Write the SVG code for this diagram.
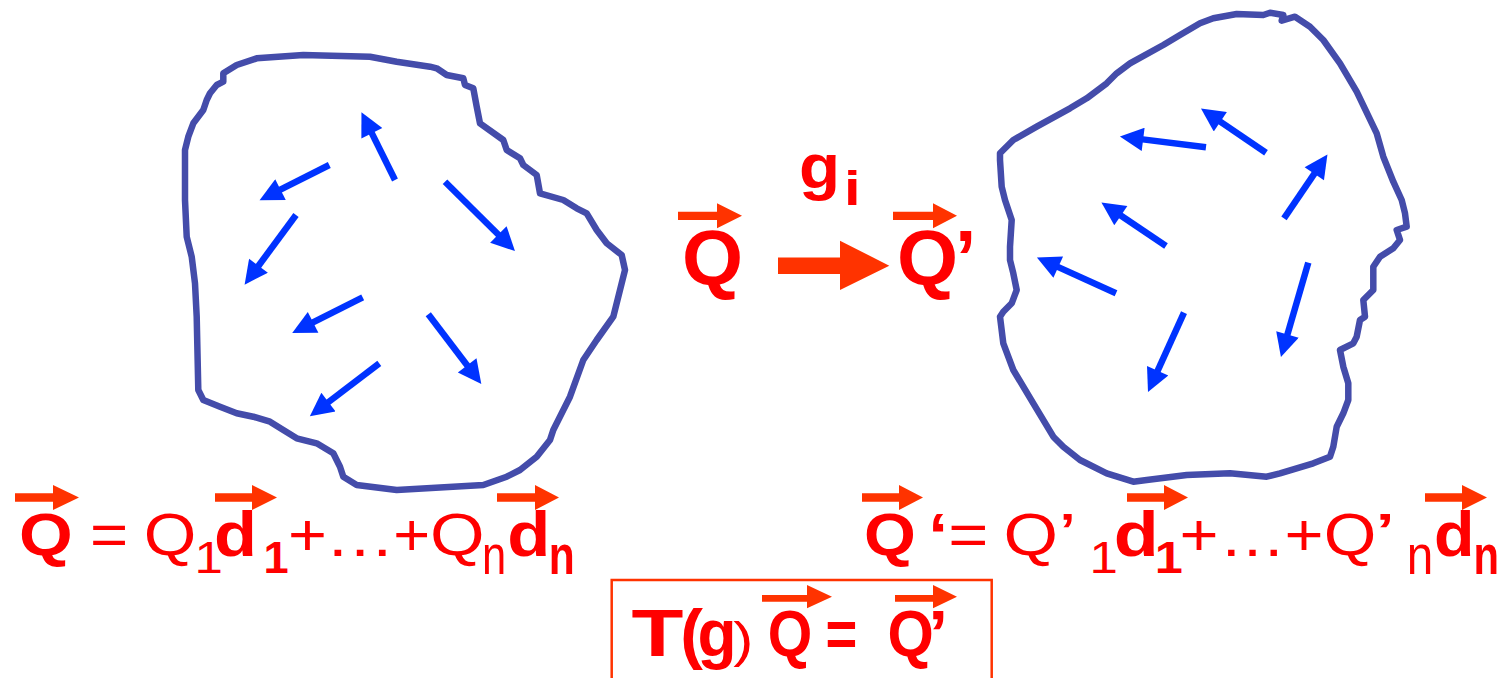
<svg xmlns="http://www.w3.org/2000/svg" width="1502" height="678" viewBox="0 0 1502 678">
<defs>
<style>
.t{font-family:"Liberation Sans",Arial,sans-serif;fill:#FF0000}
.b{font-weight:bold}
.vec{fill:#FF3300}
.blob{fill:none;stroke:#444CAA;stroke-width:6.5;stroke-linejoin:round;stroke-linecap:round}
.va{stroke:#0033FF;stroke-width:6.5;fill:none;marker-end:url(#bh)}
</style>
<marker id="bh" viewBox="0 0 10 10" refX="1" refY="5" markerWidth="4.2" markerHeight="3.6" orient="auto" markerUnits="strokeWidth">
<path d="M0,0 L10,5 L0,10 Z" fill="#0033FF"/>
</marker>
</defs>
<rect width="1502" height="678" fill="#FFFFFF"/>

<g id="blob-left">
<polygon class="blob" points="223.3,73.3 236.7,65 256.7,58.3 303.3,55 370,56.7 396.7,61.7 430,66.7 436.7,68.3 446.7,75 463.3,78.3 465,85 473.3,88.3 476.7,106.7 480,123.3 503.3,140 506.7,150 520,158.3 523.3,165 536.7,175 540,193.3 563.3,200 576.7,208.3 586.7,213.3 596.7,230 606.7,243.3 621.7,255 625,270 620,290 613.3,316.7 596.7,340 583.3,360 570,396.7 553.3,430 550,440 536.7,456.7 520,470 506.7,476.7 483.3,485 396.7,490 356.7,485 343.3,476.7 340,466.7 333.3,453.3 316.7,443.3 296.7,438.3 283.3,430 270,421.7 253.3,416.7 236.7,413.3 220,406.7 203.3,400 198.3,390 196.7,316.7 195,283.3 191.7,256.7 186.7,236.7 185,200 185,150 188.3,136.7 193.3,123.3 203.3,110 206.7,100 210,93.3 216.7,85 223.3,81.7"/>
<line class="va" x1="395" y1="180" x2="370.8" y2="131.1"/>
<line class="va" x1="329.3" y1="165" x2="278.4" y2="190.7"/>
<line class="va" x1="296" y1="215" x2="257.1" y2="267.7"/>
<line class="va" x1="445" y1="181.7" x2="500" y2="236.2"/>
<line class="va" x1="362.7" y1="297.3" x2="311" y2="323.4"/>
<line class="va" x1="428.3" y1="314.3" x2="468.6" y2="367.3"/>
<line class="va" x1="379.3" y1="363.3" x2="326.6" y2="403.5"/>
</g>

<g id="blob-right">
<polygon class="blob" points="1000,153.3 1013.3,140 1036.7,126.7 1070,108.3 1086.7,98.3 1106.7,83.3 1116.7,73.3 1130,63.3 1163.3,45 1180,35 1200,23.3 1213.3,18.3 1236.7,14 1263.3,15 1270,12.7 1283.3,15 1281.7,20.7 1295,16.7 1310,26.7 1323.3,40 1340,63.3 1356.7,91.7 1376.7,133.3 1383.3,156.7 1393.3,181.7 1401.7,200 1405,213.3 1406.7,226.7 1396.7,230 1400,240 1393.3,248.3 1380,256.7 1373.3,266.7 1373.3,290 1363.3,300 1365,316.7 1360,320 1356.7,336.7 1353.3,343.3 1340,350 1343.3,366.7 1348.3,383.3 1348.3,400 1343.3,413.3 1336.7,426.7 1333.3,446.7 1330,456.7 1313.3,463.3 1280,473.3 1266.7,476.7 1230,473.3 1186.7,475 1146.7,480 1133.3,481.7 1106.7,473.3 1080,460 1063.3,446.7 1053.3,436.7 1033.3,403.3 1013.3,370 1003.3,343.3 1000,316.7 1003.3,311.7 1011.7,303.3 1016.7,290 1013.3,273.3 1010,260 1010,246.7 1011.7,220 1005,200 1001.7,186.7 1000,160"/>
<line class="va" x1="1206" y1="147.3" x2="1140.8" y2="139.1"/>
<line class="va" x1="1266" y1="152.7" x2="1218.4" y2="120.4"/>
<line class="va" x1="1284" y1="218.3" x2="1315.6" y2="171.8"/>
<line class="va" x1="1166" y1="246" x2="1118.9" y2="214.3"/>
<line class="va" x1="1116" y1="293.3" x2="1056.1" y2="266.1"/>
<line class="va" x1="1184" y1="312.7" x2="1156.7" y2="372.9"/>
<line class="va" x1="1308.3" y1="262.7" x2="1286.8" y2="336.7"/>
</g>

<g id="connectors">
<path class="vec" d="M778,257.5 H840 V240.7 L889.3,265.7 L840,290 V274 H778 Z"/>
</g>

<g id="label-Q">
<path class="vec" d="M678,211.7 H717 V203.3 L742,215.8 L717,228.3 V220 H678 Z"/>
<text class="t b" x="681.9" y="285" font-size="77" textLength="61.1" lengthAdjust="spacingAndGlyphs">Q</text>
</g>

<g id="label-gi">
<text class="t b" x="799" y="188" font-size="63" textLength="41.1" lengthAdjust="spacingAndGlyphs">g</text>
<text class="t b" x="844.1" y="205" font-size="49" textLength="16.6" lengthAdjust="spacingAndGlyphs">i</text>
</g>

<g id="label-Qprime">
<path class="vec" d="M893,211.7 H933 V203.3 L957,215.8 L933,228.3 V220 H893 Z"/>
<text class="t b" x="897" y="285" font-size="77" textLength="61.1" lengthAdjust="spacingAndGlyphs">Q</text>
<text class="t b" x="955" y="285" font-size="77">’</text>
</g>

<g id="formula-left">
<path class="vec" d="M15,493.3 H53 V485 L79,497.5 L53,510 V501.7 H15 Z"/>
<path class="vec" d="M215,493.3 H252 V485 L277,497.5 L252,510 V501.7 H215 Z"/>
<path class="vec" d="M497,493.3 H535 V485 L559,497.5 L535,510 V501.7 H497 Z"/>
<text class="t b" x="18.9" y="555" font-size="60" textLength="53.7" lengthAdjust="spacingAndGlyphs">Q</text>
<text class="t" x="90" y="555" font-size="60" textLength="38.2" lengthAdjust="spacingAndGlyphs">=</text>
<text class="t" x="143.7" y="555" font-size="60" textLength="52.6" lengthAdjust="spacingAndGlyphs">Q</text>
<text class="t" x="194.4" y="573" font-size="44" textLength="28.4" lengthAdjust="spacingAndGlyphs">1</text>
<text class="t b" x="213.9" y="556" font-size="63" textLength="43" lengthAdjust="spacingAndGlyphs">d</text>
<text class="t b" x="263.5" y="573" font-size="44" textLength="25.2" lengthAdjust="spacingAndGlyphs">1</text>
<text class="t" x="288" y="555" font-size="60" textLength="38.9" lengthAdjust="spacingAndGlyphs">+</text>
<text class="t" x="324.9" y="556" font-size="60" textLength="70.1" lengthAdjust="spacingAndGlyphs">…</text>
<text class="t" x="393.2" y="555" font-size="60" textLength="36.9" lengthAdjust="spacingAndGlyphs">+</text>
<text class="t" x="430.1" y="555" font-size="60" textLength="54.6" lengthAdjust="spacingAndGlyphs">Q</text>
<text class="t" x="482" y="574" font-size="56" textLength="24.2" lengthAdjust="spacingAndGlyphs">n</text>
<text class="t b" x="507.2" y="556" font-size="63" textLength="43.1" lengthAdjust="spacingAndGlyphs">d</text>
<text class="t b" x="548.7" y="574" font-size="56" textLength="26" lengthAdjust="spacingAndGlyphs">n</text>
</g>

<g id="formula-right">
<path class="vec" d="M862,493.3 H899 V485 L923,497.5 L899,510 V501.7 H862 Z"/>
<path class="vec" d="M1127,493.3 H1164 V485 L1188,497.5 L1164,510 V501.7 H1127 Z"/>
<path class="vec" d="M1425,493.3 H1462 V485 L1487,497.5 L1462,510 V501.7 H1425 Z"/>
<text class="t b" x="864" y="555" font-size="60" textLength="51.8" lengthAdjust="spacingAndGlyphs">Q</text>
<text class="t b" x="928.3" y="555" font-size="60" textLength="19.8" lengthAdjust="spacingAndGlyphs">‘</text>
<text class="t" x="948.3" y="555" font-size="60" textLength="40.1" lengthAdjust="spacingAndGlyphs">=</text>
<text class="t" x="1003.5" y="555" font-size="60" textLength="54.5" lengthAdjust="spacingAndGlyphs">Q</text>
<text class="t" x="1058.3" y="555" font-size="60" textLength="18.6" lengthAdjust="spacingAndGlyphs">’</text>
<text class="t" x="1089.4" y="573" font-size="44" textLength="28.4" lengthAdjust="spacingAndGlyphs">1</text>
<text class="t b" x="1113.8" y="556" font-size="63" textLength="45" lengthAdjust="spacingAndGlyphs">d</text>
<text class="t b" x="1154.8" y="573" font-size="44" textLength="28.1" lengthAdjust="spacingAndGlyphs">1</text>
<text class="t" x="1179.6" y="555" font-size="60" textLength="39" lengthAdjust="spacingAndGlyphs">+</text>
<text class="t" x="1219" y="556" font-size="60" textLength="67" lengthAdjust="spacingAndGlyphs">…</text>
<text class="t" x="1284.6" y="555" font-size="60" textLength="39" lengthAdjust="spacingAndGlyphs">+</text>
<text class="t" x="1323.7" y="555" font-size="60" textLength="52.6" lengthAdjust="spacingAndGlyphs">Q</text>
<text class="t" x="1374" y="555" font-size="60" textLength="22.2" lengthAdjust="spacingAndGlyphs">’</text>
<text class="t" x="1406.7" y="574" font-size="56" textLength="26.5" lengthAdjust="spacingAndGlyphs">n</text>
<text class="t b" x="1434" y="556" font-size="63" textLength="40.5" lengthAdjust="spacingAndGlyphs">d</text>
<text class="t b" x="1473.5" y="574" font-size="56" textLength="25.5" lengthAdjust="spacingAndGlyphs">n</text>
</g>

<g id="box-TgQ">
<rect x="611.7" y="580" width="380" height="110" fill="none" stroke="#FF3300" stroke-width="2.5"/>
<path class="vec" d="M762,595 H807 V585 L832,596.7 L807,608.3 V601.7 H762 Z"/>
<path class="vec" d="M895,595 H933 V585 L957,596.7 L933,608.3 V601.7 H895 Z"/>
<text class="t b" x="631.6" y="656" font-size="66" textLength="51.9" lengthAdjust="spacingAndGlyphs">T</text>
<text class="t b" x="680.2" y="656" font-size="66" textLength="22.7" lengthAdjust="spacingAndGlyphs">(</text>
<text class="t b" x="697.4" y="656" font-size="67" textLength="39.1" lengthAdjust="spacingAndGlyphs">g</text>
<text class="t" x="733.2" y="656.5" font-size="50" textLength="20.1" lengthAdjust="spacingAndGlyphs">)</text>
<text class="t b" x="767.7" y="656" font-size="64" textLength="44.5" lengthAdjust="spacingAndGlyphs">Q</text>
<text class="t b" x="825.6" y="656" font-size="64" textLength="31.8" lengthAdjust="spacingAndGlyphs">=</text>
<text class="t b" x="887.6" y="656" font-size="64" textLength="46.3" lengthAdjust="spacingAndGlyphs">Q</text>
<text class="t b" x="928.3" y="656" font-size="64" textLength="19.9" lengthAdjust="spacingAndGlyphs">’</text>
</g>
</svg>
